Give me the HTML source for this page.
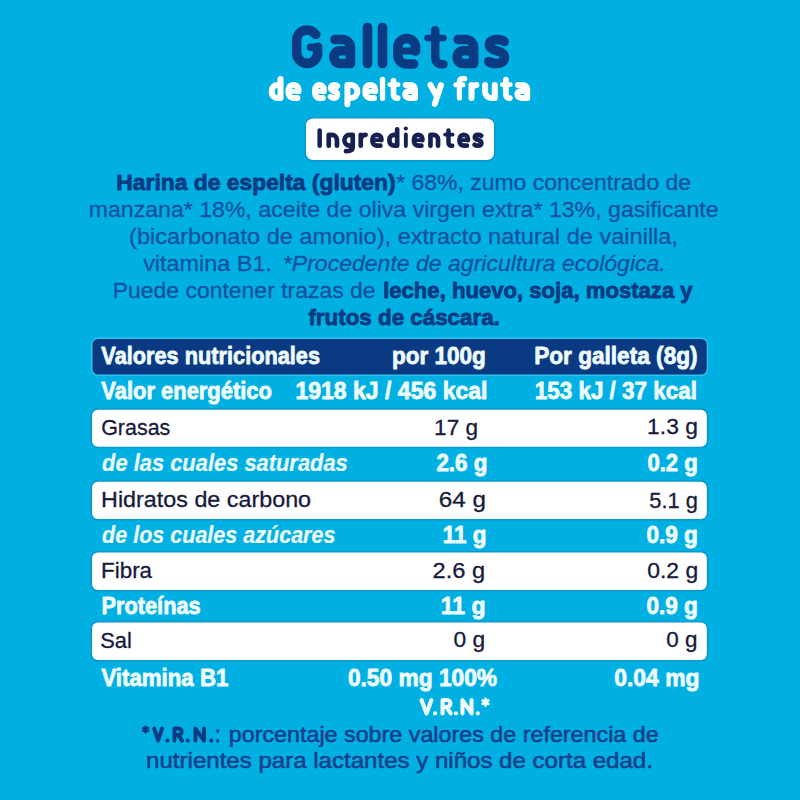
<!DOCTYPE html>
<html><head><meta charset="utf-8"><title>Galletas de espelta y fruta</title>
<style>
html,body{margin:0;padding:0;background:#00b0e2;}
body{width:800px;height:800px;overflow:hidden;}
svg{display:block;font-family:"Liberation Sans",sans-serif;}
</style></head><body>
<svg width="800" height="800" viewBox="0 0 800 800">
<rect x="0" y="0" width="800" height="800" fill="#00b0e2"/>
<rect x="306" y="118.5" width="188" height="41.5" rx="7" fill="none" stroke="#0a98cc" stroke-width="3"/>
<rect x="306" y="118.5" width="188" height="41.5" rx="7" fill="#ffffff"/>
<rect x="92.5" y="339" width="614.2" height="35.5" rx="5.5" fill="none" stroke="#30c0ec" stroke-width="3"/>
<rect x="92.5" y="339" width="614.2" height="35.5" rx="5.5" fill="#0a3a82"/>
<rect x="92" y="409.7" width="614.8" height="37.1" rx="6" fill="none" stroke="#0a98cc" stroke-width="3"/>
<rect x="92" y="409.7" width="614.8" height="37.1" rx="6" fill="#ffffff"/>
<rect x="92" y="481.7" width="614.8" height="37.2" rx="6" fill="none" stroke="#0a98cc" stroke-width="3"/>
<rect x="92" y="481.7" width="614.8" height="37.2" rx="6" fill="#ffffff"/>
<rect x="92" y="552.6" width="614.8" height="37.5" rx="6" fill="none" stroke="#0a98cc" stroke-width="3"/>
<rect x="92" y="552.6" width="614.8" height="37.5" rx="6" fill="#ffffff"/>
<rect x="92" y="622.6" width="614.8" height="37.5" rx="6" fill="none" stroke="#0a98cc" stroke-width="3"/>
<rect x="92" y="622.6" width="614.8" height="37.5" rx="6" fill="#ffffff"/>
<g fill="none" stroke="#0a3a82" stroke-linecap="round" stroke-linejoin="round"><path stroke-width="9.6" d="M335.00 39.5 L342.50 39.5 A7.9 7.9 0 0 1 350.40 47.4 L350.40 63.5 M350.40 50.7 L340.50 50.7 C336.30 50.7 334.00 53.5 334.00 57.1 C334.00 60.7 336.30 63.5 340.50 63.5 L350.40 63.5 M367.5 27.5 L367.5 63.5 M382.5 27.5 L382.5 63.5 M415.5 51 L415.5 47.5 C415.5 42.3 411.6 38.5 406.7 38.5 C401.8 38.5 397.9 42.3 397.9 47.5 L397.9 55 C397.9 60.2 401.8 64 406.7 64 L413.5 64 M458.20 39.5 L465.70 39.5 A7.9 7.9 0 0 1 473.60 47.4 L473.60 63.5 M473.60 50.7 L463.70 50.7 C459.50 50.7 457.20 53.5 457.20 57.1 C457.20 60.7 459.50 63.5 463.70 63.5 L473.60 63.5 M504.2 41.5 C502.5 40 500 39.5 497 39.5 C492.5 39.5 489.4 41.6 489.4 44.8 C489.4 48.2 492.5 49.6 497 50.8 C501.5 52 504.4 53.6 504.4 57.4 C504.4 61.3 501.2 63.5 496.5 63.5 C493 63.5 490.3 62.8 488.8 61.5"/><path stroke-width="9.6" d="M315.75 34.43 A10.5 10.5 0 0 0 296.65 40.45 L296.65 52.85 A10.5 10.5 0 0 0 317.65 52.85 L317.65 47.2"/><path stroke-width="7.6" d="M310.6 47.2 L317.65 47.2"/><path stroke-width="7" d="M397.9 51 L415.5 51"/><path stroke-width="8.5" d="M435.2 30.35 L435.2 57 C435.2 61.5 437.5 64.25 441.5 64.25 L443.5 64.25"/><path stroke-width="6.5" d="M427.5 38.1 L443.5 38.1"/></g>
<g fill="none" stroke="#ffffff" stroke-linecap="round" stroke-linejoin="round"><path stroke-width="6.0" d="M280.50 79.00 L280.50 97.90 M280.50 85.00 L277.19 85.00 A5.39 5.39 0 0 0 271.80 90.39 L271.80 92.51 A5.39 5.39 0 0 0 277.19 97.90 L280.50 97.90 M298.50 91.32 L298.50 89.55 C298.50 86.92 296.28 85.00 293.50 85.00 C290.72 85.00 288.50 86.92 288.50 89.55 L288.50 93.35 C288.50 95.98 290.72 97.90 293.50 97.90 L297.36 97.90 M323.80 91.32 L323.80 89.55 C323.80 86.92 321.87 85.00 319.45 85.00 C317.03 85.00 315.10 86.92 315.10 89.55 L315.10 93.35 C315.10 95.98 317.03 97.90 319.45 97.90 L322.81 97.90 M 337.22 86.07 C 336.49 85.27 335.42 85.00 334.14 85.00 C 332.22 85.00 330.90 86.13 330.90 87.85 C 330.90 89.68 332.22 90.43 334.14 91.08 C 336.06 91.72 337.30 92.58 337.30 94.62 C 337.30 96.71 335.94 97.90 333.93 97.90 C 332.44 97.90 331.28 97.53 330.64 96.83 M347.40 85.00 L347.40 104.30 M347.40 85.00 L351.16 85.00 A6.14 6.14 0 0 1 357.30 91.14 L357.30 91.76 A6.14 6.14 0 0 1 351.16 97.90 L347.40 97.90 M375.20 91.32 L375.20 89.55 C375.20 86.92 373.02 85.00 370.30 85.00 C367.58 85.00 365.40 86.92 365.40 89.55 L365.40 93.35 C365.40 95.98 367.58 97.90 370.30 97.90 L374.08 97.90 M 405.80 85.00 L 410.28 85.00 C 412.84 85.00 415.00 86.55 415.00 89.24 L 415.00 97.90 M 415.00 91.02 L 409.08 91.02 C 406.57 91.02 405.20 92.52 405.20 94.46 C 405.20 96.39 406.57 97.90 409.08 97.90 L 415.00 97.90 M441.00 85.00 L434.76 103.90 M430.50 85.00 L437.07 96.90 M471.50 85.00 L471.50 97.90 M471.50 91.19 C471.50 86.94 473.95 85.00 476.40 85.00 M485.10 85.00 L485.10 91.89 A6.01 6.01 0 0 0 491.11 97.90 L494.80 97.90 M494.80 85.00 L494.80 97.90 M 518.00 85.00 L 522.48 85.00 C 525.04 85.00 527.20 86.55 527.20 89.24 L 527.20 97.90 M 527.20 91.02 L 521.28 91.02 C 518.77 91.02 517.40 92.52 517.40 94.46 C 517.40 96.39 518.77 97.90 521.28 97.90 L 527.20 97.90"/><path stroke-width="4.8" d="M288.50 91.32 L298.50 91.32 M315.10 91.32 L323.80 91.32 M365.40 91.32 L375.20 91.32 M389.80 84.60 L398.10 84.60 M502.40 84.60 L510.30 84.60"/><path stroke-width="5.3" d="M382.55 79.45 L382.55 98.25"/><path stroke-width="5.7" d="M393.50 80.95 L393.50 94.18 C393.50 96.89 394.92 98.05 397.37 98.05 L397.65 98.05 M505.92 79.65 L505.92 94.18 C505.92 96.89 507.34 98.05 509.79 98.05 L509.85 98.05"/><path stroke-width="5.2" d="M459.40 97.90 L459.40 81.70 C459.40 79.50 460.90 78.70 462.90 78.70 L464.70 78.70"/><path stroke-width="5.1" d="M455.95 84.75 L462.90 84.75"/></g>
<g fill="none" stroke="#152150" stroke-linecap="round" stroke-linejoin="round"><path stroke-width="4.5" d="M319.65 130.45 L319.65 145.75"/><path stroke-width="4.7" d="M328.75 145.65 L328.75 134.85 L331.87 134.85 A5.08 5.08 0 0 1 336.95 139.93 L336.95 145.65 M352.75 134.85 L349.60 134.85 A5.15 5.15 0 0 0 344.45 140.00 L344.45 140.50 A5.15 5.15 0 0 0 349.60 145.65 L352.75 145.65 M352.75 134.85 L352.75 147.03 C352.75 150.12 350.18 151.15 346.57 151.15 L345.99 151.15 M360.75 134.85 L360.75 145.65 M360.75 140.03 C360.75 136.47 362.80 134.85 365.65 134.85 M381.35 140.14 L381.35 138.66 C381.35 136.46 379.40 134.85 376.95 134.85 C374.50 134.85 372.55 136.46 372.55 138.66 L372.55 141.84 C372.55 144.04 374.50 145.65 376.95 145.65 L380.35 145.65 M397.15 129.45 L397.15 145.65 M397.15 134.85 L394.22 134.85 A4.77 4.77 0 0 0 389.45 139.62 L389.45 140.88 A4.77 4.77 0 0 0 394.22 145.65 L397.15 145.65 M422.35 140.14 L422.35 138.66 C422.35 136.46 420.51 134.85 418.20 134.85 C415.89 134.85 414.05 136.46 414.05 138.66 L414.05 141.84 C414.05 144.04 415.89 145.65 418.20 145.65 L421.40 145.65 M430.45 145.65 L430.45 134.85 L433.34 134.85 A4.71 4.71 0 0 1 438.05 139.56 L438.05 145.65 M467.85 140.14 L467.85 138.66 C467.85 136.46 466.03 134.85 463.75 134.85 C461.47 134.85 459.65 136.46 459.65 138.66 L459.65 141.84 C459.65 144.04 461.47 145.65 463.75 145.65 L466.92 145.65 M 481.27 135.75 C 480.52 135.08 479.45 134.85 478.15 134.85 C 476.20 134.85 474.85 135.79 474.85 137.24 C 474.85 138.76 476.20 139.40 478.15 139.94 C 480.10 140.48 481.35 141.19 481.35 142.91 C 481.35 144.66 479.97 145.65 477.92 145.65 C 476.41 145.65 475.24 145.34 474.59 144.75"/><path stroke-width="3.76" d="M372.55 140.14 L381.35 140.14 M414.05 140.14 L422.35 140.14 M445.08 134.58 L452.62 134.58 M459.65 140.14 L467.85 140.14"/><path stroke-width="3.9" d="M405.85 134.45 L405.85 146.05"/><path stroke-width="4.1" d="M405.85 128.45 L405.85 128.46"/><path stroke-width="4.46" d="M448.47 130.43 L448.47 142.53 C448.47 144.80 449.65 145.77 451.71 145.77 L452.27 145.77"/></g>
<g fill="none" stroke="#eefbff" stroke-linecap="round" stroke-linejoin="round"><path stroke-width="4.1" d="M421.55 700.05 L426.50 713.45 L431.45 700.05 M442.55 713.45 L442.55 700.05 L446.92 700.05 A3.48 3.48 0 0 1 446.92 707.02 L442.55 707.02 M446.48 707.02 L450.70 713.45 M462.45 713.45 L462.45 700.05 L471.55 713.45 L471.55 700.05"/><path stroke-width="4.3" d="M435.10 713.35 L435.10 713.36 M455.90 713.35 L455.90 713.36 M477.80 713.35 L477.80 713.36"/><path stroke-width="2.8" d="M485.50 698.90 L485.50 705.50 M488.36 700.55 L482.64 703.85 M488.36 703.85 L482.64 700.55"/></g>
<g fill="none" stroke="#0a3a82" stroke-linecap="round" stroke-linejoin="round"><path stroke-width="2.7" d="M145.70 726.74 L145.70 732.26 M148.09 728.12 L143.31 730.88 M148.09 730.88 L143.31 728.12"/><path stroke-width="3.9" d="M154.20 728.55 L158.07 740.65 L161.95 728.55 M174.45 740.65 L174.45 728.55 L178.70 728.55 A3.15 3.15 0 0 1 178.70 734.84 L174.45 734.84 M178.15 734.84 L182.15 740.65 M195.45 740.65 L195.45 728.55 L204.05 740.65 L204.05 728.55"/><path stroke-width="4.09" d="M167.45 740.55 L167.45 740.56 M187.75 740.55 L187.75 740.56 M211.25 740.55 L211.25 740.56"/></g>
<text x="116.39" y="189.60" textLength="279.20" lengthAdjust="spacingAndGlyphs" font-size="22.5" fill="#0a3a82" font-weight="bold" stroke="#0a3a82" stroke-width="0.8" stroke-linejoin="round">Harina de espelta (gluten)</text>
<text x="396.16" y="189.85" textLength="294.93" lengthAdjust="spacingAndGlyphs" font-size="22" fill="#1552a0" stroke="#1552a0" stroke-width="0.3" stroke-linejoin="round">* 68%, zumo concentrado de</text>
<text x="88.71" y="216.85" textLength="629.88" lengthAdjust="spacingAndGlyphs" font-size="22" fill="#1552a0" stroke="#1552a0" stroke-width="0.3" stroke-linejoin="round">manzana* 18%, aceite de oliva virgen extra* 13%, gasificante</text>
<text x="129.09" y="243.85" textLength="548.94" lengthAdjust="spacingAndGlyphs" font-size="22" fill="#1552a0" stroke="#1552a0" stroke-width="0.3" stroke-linejoin="round">(bicarbonato de amonio), extracto natural de vainilla,</text>
<text x="143.16" y="270.85" textLength="128.86" lengthAdjust="spacingAndGlyphs" font-size="22" fill="#1552a0" stroke="#1552a0" stroke-width="0.3" stroke-linejoin="round">vitamina B1.</text>
<text x="282.86" y="270.85" textLength="382.89" lengthAdjust="spacingAndGlyphs" font-size="22" fill="#1552a0" font-style="italic" stroke="#1552a0" stroke-width="0.3" stroke-linejoin="round">*Procedente de agricultura ecológica.</text>
<text x="112.71" y="297.85" textLength="262.88" lengthAdjust="spacingAndGlyphs" font-size="22" fill="#1552a0" stroke="#1552a0" stroke-width="0.3" stroke-linejoin="round">Puede contener trazas de</text>
<text x="383.16" y="297.60" textLength="309.47" lengthAdjust="spacingAndGlyphs" font-size="22.5" fill="#0a3a82" font-weight="bold" stroke="#0a3a82" stroke-width="0.8" stroke-linejoin="round">leche, huevo, soja, mostaza y</text>
<text x="308.40" y="324.60" textLength="191.45" lengthAdjust="spacingAndGlyphs" font-size="22.5" fill="#0a3a82" font-weight="bold" stroke="#0a3a82" stroke-width="0.8" stroke-linejoin="round">frutos de cáscara.</text>
<text x="101.36" y="363.60" textLength="218.69" lengthAdjust="spacingAndGlyphs" font-size="24.2" fill="#eefbff" font-weight="bold" stroke="#eefbff" stroke-width="0.8" stroke-linejoin="round">Valores nutricionales</text>
<text x="391.94" y="363.60" textLength="93.91" lengthAdjust="spacingAndGlyphs" font-size="24.2" fill="#eefbff" font-weight="bold" stroke="#eefbff" stroke-width="0.8" stroke-linejoin="round">por 100g</text>
<text x="534.14" y="363.60" textLength="163.47" lengthAdjust="spacingAndGlyphs" font-size="24.2" fill="#eefbff" font-weight="bold" stroke="#eefbff" stroke-width="0.8" stroke-linejoin="round">Por galleta (8g)</text>
<text x="101.37" y="399.10" textLength="170.58" lengthAdjust="spacingAndGlyphs" font-size="23.5" fill="#eefbff" font-weight="bold" stroke="#eefbff" stroke-width="0.8" stroke-linejoin="round">Valor energético</text>
<text x="295.41" y="399.40" textLength="192.09" lengthAdjust="spacingAndGlyphs" font-size="23.5" fill="#eefbff" font-weight="bold" stroke="#eefbff" stroke-width="0.8" stroke-linejoin="round">1918 kJ / 456 kcal</text>
<text x="534.83" y="399.10" textLength="162.05" lengthAdjust="spacingAndGlyphs" font-size="23.5" fill="#eefbff" font-weight="bold" stroke="#eefbff" stroke-width="0.8" stroke-linejoin="round">153 kJ / 37 kcal</text>
<text x="101.17" y="434.85" textLength="69.18" lengthAdjust="spacingAndGlyphs" font-size="22" fill="#161a3c" stroke="#161a3c" stroke-width="0.3" stroke-linejoin="round">Grasas</text>
<text x="434.13" y="434.85" textLength="43.99" lengthAdjust="spacingAndGlyphs" font-size="22" fill="#161a3c" stroke="#161a3c" stroke-width="0.3" stroke-linejoin="round">17 g</text>
<text x="647.12" y="434.45" textLength="50.81" lengthAdjust="spacingAndGlyphs" font-size="22" fill="#161a3c" stroke="#161a3c" stroke-width="0.3" stroke-linejoin="round">1.3 g</text>
<text x="102.09" y="470.90" textLength="245.68" lengthAdjust="spacingAndGlyphs" font-size="23.5" fill="#eefbff" font-weight="bold" font-style="italic" stroke="#eefbff" stroke-width="0.2" stroke-linejoin="round">de las cuales saturadas</text>
<text x="436.38" y="470.60" textLength="51.13" lengthAdjust="spacingAndGlyphs" font-size="23.5" fill="#eefbff" font-weight="bold" stroke="#eefbff" stroke-width="0.8" stroke-linejoin="round">2.6 g</text>
<text x="647.38" y="470.60" textLength="50.52" lengthAdjust="spacingAndGlyphs" font-size="23.5" fill="#eefbff" font-weight="bold" stroke="#eefbff" stroke-width="0.8" stroke-linejoin="round">0.2 g</text>
<text x="101.10" y="507.05" textLength="209.99" lengthAdjust="spacingAndGlyphs" font-size="22" fill="#161a3c" stroke="#161a3c" stroke-width="0.3" stroke-linejoin="round">Hidratos de carbono</text>
<text x="438.76" y="506.85" textLength="47.13" lengthAdjust="spacingAndGlyphs" font-size="22" fill="#161a3c" stroke="#161a3c" stroke-width="0.3" stroke-linejoin="round">64 g</text>
<text x="649.25" y="508.15" textLength="48.63" lengthAdjust="spacingAndGlyphs" font-size="22" fill="#161a3c" stroke="#161a3c" stroke-width="0.3" stroke-linejoin="round">5.1 g</text>
<text x="102.09" y="542.90" textLength="233.38" lengthAdjust="spacingAndGlyphs" font-size="23.5" fill="#eefbff" font-weight="bold" font-style="italic" stroke="#eefbff" stroke-width="0.2" stroke-linejoin="round">de los cuales azúcares</text>
<text x="442.83" y="542.60" textLength="43.69" lengthAdjust="spacingAndGlyphs" font-size="23.5" fill="#eefbff" font-weight="bold" stroke="#eefbff" stroke-width="0.8" stroke-linejoin="round">11 g</text>
<text x="646.38" y="542.60" textLength="51.53" lengthAdjust="spacingAndGlyphs" font-size="23.5" fill="#eefbff" font-weight="bold" stroke="#eefbff" stroke-width="0.8" stroke-linejoin="round">0.9 g</text>
<text x="101.14" y="577.85" textLength="50.93" lengthAdjust="spacingAndGlyphs" font-size="22" fill="#161a3c" stroke="#161a3c" stroke-width="0.3" stroke-linejoin="round">Fibra</text>
<text x="432.58" y="577.85" textLength="52.68" lengthAdjust="spacingAndGlyphs" font-size="22" fill="#161a3c" stroke="#161a3c" stroke-width="0.3" stroke-linejoin="round">2.6 g</text>
<text x="647.16" y="577.85" textLength="50.97" lengthAdjust="spacingAndGlyphs" font-size="22" fill="#161a3c" stroke="#161a3c" stroke-width="0.3" stroke-linejoin="round">0.2 g</text>
<text x="101.44" y="613.60" textLength="99.25" lengthAdjust="spacingAndGlyphs" font-size="23.5" fill="#eefbff" font-weight="bold" stroke="#eefbff" stroke-width="0.8" stroke-linejoin="round">Proteínas</text>
<text x="440.81" y="613.60" textLength="44.93" lengthAdjust="spacingAndGlyphs" font-size="23.5" fill="#eefbff" font-weight="bold" stroke="#eefbff" stroke-width="0.8" stroke-linejoin="round">11 g</text>
<text x="646.38" y="613.60" textLength="51.53" lengthAdjust="spacingAndGlyphs" font-size="23.5" fill="#eefbff" font-weight="bold" stroke="#eefbff" stroke-width="0.8" stroke-linejoin="round">0.9 g</text>
<text x="100.16" y="647.55" textLength="31.58" lengthAdjust="spacingAndGlyphs" font-size="22" fill="#161a3c" stroke="#161a3c" stroke-width="0.3" stroke-linejoin="round">Sal</text>
<text x="453.46" y="647.15" textLength="31.67" lengthAdjust="spacingAndGlyphs" font-size="22" fill="#161a3c" stroke="#161a3c" stroke-width="0.3" stroke-linejoin="round">0 g</text>
<text x="666.35" y="647.15" textLength="31.26" lengthAdjust="spacingAndGlyphs" font-size="22" fill="#161a3c" stroke="#161a3c" stroke-width="0.3" stroke-linejoin="round">0 g</text>
<text x="101.38" y="685.60" textLength="127.01" lengthAdjust="spacingAndGlyphs" font-size="23.5" fill="#eefbff" font-weight="bold" stroke="#eefbff" stroke-width="0.8" stroke-linejoin="round">Vitamina B1</text>
<text x="347.89" y="685.60" textLength="149.22" lengthAdjust="spacingAndGlyphs" font-size="23.5" fill="#eefbff" font-weight="bold" stroke="#eefbff" stroke-width="0.8" stroke-linejoin="round">0.50 mg 100%</text>
<text x="614.19" y="685.60" textLength="85.34" lengthAdjust="spacingAndGlyphs" font-size="23.5" fill="#eefbff" font-weight="bold" stroke="#eefbff" stroke-width="0.8" stroke-linejoin="round">0.04 mg</text>
<text x="215.03" y="742.20" textLength="5.63" lengthAdjust="spacingAndGlyphs" font-size="22" fill="#163f8c" stroke="#163f8c" stroke-width="0.8" stroke-linejoin="round">:</text>
<text x="228.73" y="742.23" textLength="429.98" lengthAdjust="spacingAndGlyphs" font-size="22" fill="#163f8c" stroke="#163f8c" stroke-width="0.55" stroke-linejoin="round">porcentaje sobre valores de referencia de</text>
<text x="146.11" y="768.23" textLength="506.81" lengthAdjust="spacingAndGlyphs" font-size="22" fill="#163f8c" stroke="#163f8c" stroke-width="0.55" stroke-linejoin="round">nutrientes para lactantes y niños de corta edad.</text>
</svg>
</body></html>
